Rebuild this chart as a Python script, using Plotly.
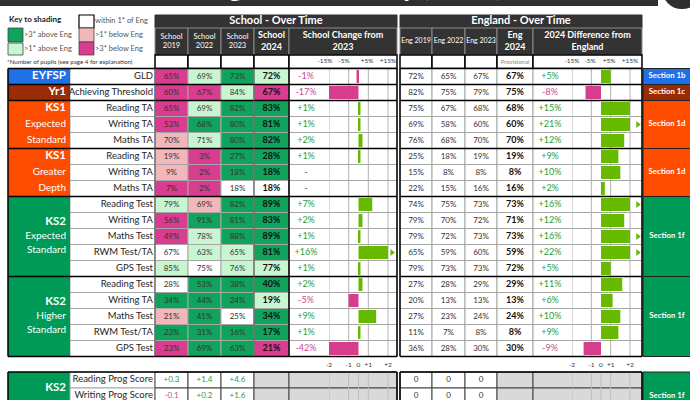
import plotly.graph_objects as go

# values
SUBJECTS = ["GLD", "Achieving Threshold",
            "Reading TA", "Writing TA", "Maths TA",
            "Reading TA", "Writing TA", "Maths TA",
            "Reading Test", "Writing TA", "Maths Test", "RWM Test/TA", "GPS Test",
            "Reading Test", "Writing TA", "Maths Test", "RWM Test/TA", "GPS Test"]
SCHOOL_2019 = [65, 60, 65, 53, 70, 19, 9, 7, 79, 56, 49, 67, 85, 28, 34, 21, 23, 23]
SCHOOL_2022 = [69, 67, 69, 68, 71, 3, 2, 2, 69, 91, 78, 63, 75, 53, 44, 41, 31, 69]
SCHOOL_2023 = [73, 84, 82, 80, 80, 27, 18, 18, 82, 81, 88, 65, 76, 38, 24, 25, 16, 63]
SCHOOL_2024 = [72, 67, 83, 81, 82, 28, 18, 18, 89, 83, 89, 81, 77, 40, 19, 34, 17, 21]
SCHOOL_CHANGE = [-1, -17, 1, 1, 2, 1, None, None, 7, 2, 1, 16, 1, 2, -5, 9, 1, -42]
ENG_2019 = [72, 82, 75, 69, 76, 25, 15, 22, 74, 79, 79, 65, 79, 27, 20, 27, 11, 36]
ENG_2022 = [65, 75, 67, 58, 68, 18, 8, 15, 75, 70, 72, 59, 73, 28, 13, 23, 7, 28]
ENG_2023 = [67, 79, 68, 60, 70, 19, 8, 16, 73, 72, 73, 60, 73, 29, 13, 24, 8, 30]
ENG_2024 = [67, 75, 68, 60, 70, 19, 8, 16, 73, 71, 73, 59, 72, 29, 13, 24, 8, 30]
ENG_DIFF = [5, -8, 15, 21, 12, 9, 10, 2, 16, 12, 16, 22, 5, 11, 6, 10, 9, -9]

# shading vs England: G >3* above, g >1* above, w within 1*, p >1* below, M >3* below
SHADE_2019 = ["M", "M", "M", "M", "p", "p", "p", "M", "g", "M", "M", "w", "g", "w", "G", "p", "G", "M"]
SHADE_2022 = ["g", "M", "g", "G", "g", "M", "M", "M", "p", "G", "g", "g", "w", "G", "G", "G", "G", "G"]
SHADE_2023 = ["G", "g", "G", "G", "G", "G", "G", "w", "G", "G", "G", "g", "g", "G", "G", "w", "G", "G"]
SHADE_2024 = ["g", "M", "G", "G", "G", "G", "G", "w", "G", "G", "G", "G", "g", "G", "g", "G", "G", "M"]

BLOCK_SIZES = [1, 1, 3, 3, 5, 5]
BLOCK_STAGES = ["EYFSP", "Yr1", "KS1", "KS1", "KS2", "KS2"]
BLOCK_SUBTITLES = [[], [], ["Expected", "Standard"], ["Greater", "Depth"],
                   ["Expected", "Standard"], ["Higher", "Standard"]]
BLOCK_SECTIONS = ["Section 1b", "Section 1c", "Section 1d", "Section 1d", "Section 1f", "Section 1f"]

PROG_SUBJECTS = ["Reading Prog Score", "Writing Prog Score"]
PROG_2019 = [0.3, -0.1]
PROG_2022 = [1.4, 0.2]
PROG_2023 = [4.6, 1.6]
PROG_ENG = [0, 0]

KEY_LABELS = [">3* above Eng", ">1* above Eng", "within 1* of Eng", ">1* below Eng", ">3* below Eng"]
PCT_TICKS = ["-15%", "-5%", "+5%", "+15%"]
PROG_TICKS = ["-2", "-1", "0", "+1", "+2"]

# ---- styling / layout (pixel grid of a 690x400 page) ----
FONT = "Lato"
SHADE = {"G": "#0fa35c", "g": "#c7f6d1", "w": "#ffffff", "p": "#f2b6bb", "M": "#d83d8f"}
STAGE_COLOUR = {"EYFSP": "#1f6fe6", "Yr1": "#9a2b05", "KS1": "#ff4d00", "KS2": "#009a57"}
POS_BAR, NEG_BAR = "#66bb00", "#d63d8c"
POS_TXT, NEG_TXT = "#1f9e45", "#d0468f"
DARK = "#333333"
GRID = "#a6a6a6"

TOP, ROW_H = 68.5, 16
PROG_TOP = 372
STAGE_X = (8, 70)
SUBJ_X = (70, 155)
SCHOOL_X = [155, 188, 221, 254, 289]
CHG_X = (289, 329, 397)
ENG_X = [400, 432, 465, 497, 533]
DIF_X = (533, 572, 642)
SEC_X = (642, 690)
CLIP = 15
S_SCALE = (388 - 329) / 30.0   # px per % in the school change bars
E_SCALE = (630 - 572) / 30.0   # px per % in the England difference bars

n = len(SUBJECTS)
bottom = TOP + n * ROW_H
row_mid = [TOP + (i + 0.5) * ROW_H for i in range(n)]

shapes = []


def rect(x0, x1, y0, y1, fill, line=GRID, width=1, layer="below", xref="x"):
    shapes.append(dict(type="rect", xref=xref, yref="y", x0=x0, x1=x1, y0=y0, y1=y1,
                       fillcolor=fill, line=dict(color=line, width=width), layer=layer))


def hline(x0, x1, y, color="black", width=1.5, layer="above"):
    shapes.append(dict(type="line", xref="x", yref="y", x0=x0, x1=x1, y0=y, y1=y,
                       line=dict(color=color, width=width), layer=layer))


def vline(x, y0, y1, color="black", width=1.5, layer="above", xref="x"):
    shapes.append(dict(type="line", xref=xref, yref="y", x0=x, x1=x, y0=y0, y1=y1,
                       line=dict(color=color, width=width), layer=layer))


traces = []


def text(x, y, txt, size, color, pos="middle center", xaxis="x"):
    traces.append(go.Scatter(x=x, y=y, text=txt, mode="text", textposition=pos,
                             textfont=dict(family=FONT, size=size, color=color),
                             xaxis=xaxis, yaxis="y", cliponaxis=False,
                             hoverinfo="skip", showlegend=False))


def centres(edges):
    return [(a + b) / 2 for a, b in zip(edges[:-1], edges[1:])]


# title bar (cut off at top of the page)
shapes.append(dict(type="rect", xref="x", yref="paper", x0=-5, x1=658, y0=1 - 6 / 400, y1=1.1,
                   fillcolor="#2f2f2f", line=dict(width=0), layer="above"))
shapes.append(dict(type="circle", xref="x", yref="paper", x0=661, x1=703, y0=1 - 10 / 400, y1=1.08,
                   fillcolor="#2f2f2f", line=dict(color="white", width=2), layer="above"))

# key
key_boxes = [(8, 23, 28, 42, "G"), (8, 23, 43, 55, "g"), (79, 94, 15, 28, "w"),
             (79, 94, 28, 42, "p"), (79, 94, 42, 55, "M")]
for x0, x1, y0, y1, s in key_boxes:
    rect(x0, x1, y0, y1, SHADE[s], "#444" if s != "w" else "black", 0.8 if s != "w" else 1.2)
text([9], [20], ["<b>Key to shading</b>"], 8, "#222", "middle right")
text([24, 24, 95, 95, 95], [35, 49, 21, 35, 49], KEY_LABELS, 7.5, "#555", "middle right")
text([7], [62], ["*Number of pupils (see page 4 for explanation)"], 6.2, "#333", "middle right")

# header bands
rect(155, 397, 15, 28, DARK, DARK)
rect(400, 642, 15, 28, DARK, DARK)
school_head = SCHOOL_X + [CHG_X[2]]
eng_head = ENG_X + [DIF_X[2]]
for edges in (school_head, eng_head):
    for a, b in zip(edges[:-1], edges[1:]):
        rect(a, b, 28, 55, DARK, "#8c8c8c", 1)
        rect(a, b, 55, TOP, "white", "black", 1.5)
text([276, 521], [21.5, 21.5], ["<b>School - Over Time</b>", "<b>England - Over Time</b>"], 11, "white")
sh_c = centres(school_head)
text(sh_c[:3], [41.5] * 3, ["School<br>2019", "School<br>2022", "School<br>2023"], 7.5, "white")
text(sh_c[3:], [41.5] * 2, ["<b>School<br>2024</b>", "<b>School Change from<br>2023</b>"], 9, "white")
eh_c = centres(eng_head)
text(eh_c[:3], [41.5] * 3, ["Eng 2019", "Eng 2022", "Eng 2023"], 7, "white")
text(eh_c[3:], [41.5] * 2, ["<b>Eng<br>2024</b>", "<b>2024 Difference from<br>England</b>"], 9, "white")
text([515], [62], ["Provisional"], 6, "#888")
text([325, 344, 367, 388], [61.5] * 4, PCT_TICKS, 6.5, "#333")
text([572, 590, 609, 630], [61.5] * 4, PCT_TICKS, 6.5, "#333")

# data cells
shades = [SHADE_2019, SHADE_2022, SHADE_2023, SHADE_2024]
for i in range(n):
    y0, y1 = TOP + i * ROW_H, TOP + (i + 1) * ROW_H
    rect(SUBJ_X[0], SUBJ_X[1], y0, y1, "white")
    for j in range(4):
        rect(SCHOOL_X[j], SCHOOL_X[j + 1], y0, y1, SHADE[shades[j][i]])
    rect(CHG_X[0], CHG_X[2], y0, y1, "white")
    for j in range(4):
        rect(ENG_X[j], ENG_X[j + 1], y0, y1, "white")
    rect(DIF_X[0], DIF_X[2], y0, y1, "white")

for t in (-15, -5, 5, 15):
    vline(t, TOP, bottom, "#b3b3b3", 1, "below", "x2")
    vline(t, TOP, bottom, "#b3b3b3", 1, "below", "x3")

# stage blocks and section labels
row = 0
stage_y, stage_t, sub_y, sub_t, sec_y = [], [], [], [], []
for size, stage, subs in zip(BLOCK_SIZES, BLOCK_STAGES, BLOCK_SUBTITLES):
    y0, y1 = TOP + row * ROW_H, TOP + (row + size) * ROW_H
    col = STAGE_COLOUR[stage]
    rect(STAGE_X[0], STAGE_X[1], y0, y1, col, col, 0)
    rect(SEC_X[0] + 1, SEC_X[1] + 2, y0, y1, col, "#222", 1)
    lines = [stage] + subs
    gap = 16 if size <= 3 else 14
    mid = (y0 + y1) / 2
    for k, t in enumerate(lines):
        yy = mid + (k - (len(lines) - 1) / 2) * gap
        if k == 0:
            stage_y.append(yy)
            stage_t.append(f"<b>{t}</b>")
        else:
            sub_y.append(yy)
            sub_t.append(t)
    sec_y.append(mid)
    hline(STAGE_X[0], CHG_X[2], y0)
    hline(ENG_X[0], DIF_X[2], y0)
    row += size
hline(STAGE_X[0], CHG_X[2], bottom)
hline(ENG_X[0], DIF_X[2], bottom)
for x in (STAGE_X[0], CHG_X[0], CHG_X[2], ENG_X[0], DIF_X[2]):
    vline(x, TOP, bottom)
vline(SCHOOL_X[0], TOP, bottom, "#555", 1)
vline(SCHOOL_X[3], TOP, bottom, "#555", 1)

# progress section
prog_bottom = PROG_TOP + 3 * ROW_H
rect(STAGE_X[0], STAGE_X[1], PROG_TOP, prog_bottom, STAGE_COLOUR["KS2"], STAGE_COLOUR["KS2"], 0)
rect(SEC_X[0] + 1, SEC_X[1] + 2, PROG_TOP, prog_bottom, STAGE_COLOUR["KS2"], "#222", 1)
prog_mid = []
for i in range(len(PROG_SUBJECTS)):
    y0, y1 = PROG_TOP + i * ROW_H, PROG_TOP + (i + 1) * ROW_H
    prog_mid.append((y0 + y1) / 2)
    rect(SUBJ_X[0], SUBJ_X[1], y0, y1, "white")
    for j in range(3):
        rect(SCHOOL_X[j], SCHOOL_X[j + 1], y0, y1, "white", "#444", 1)
        rect(ENG_X[j], ENG_X[j + 1], y0, y1, "white", "#444", 1)
    rect(SCHOOL_X[3], SCHOOL_X[4], y0, y1, "#d9d9d9", "#444", 1)
    rect(CHG_X[0], CHG_X[2], y0, y1, "#d9d9d9", "#444", 1)
    rect(ENG_X[3], ENG_X[4], y0, y1, "#d9d9d9", "#444", 1)
    rect(DIF_X[0], DIF_X[2], y0, y1, "#d9d9d9", "#444", 1)
for t in (-15, -5, 0, 5, 15):
    vline(t, PROG_TOP, prog_bottom, "#bdbdbd", 1, "below", "x2")
    vline(t, PROG_TOP, prog_bottom, "#bdbdbd", 1, "below", "x3")
hline(STAGE_X[0], CHG_X[2], PROG_TOP)
hline(ENG_X[0], DIF_X[2], PROG_TOP)
for x in (STAGE_X[0], CHG_X[2], ENG_X[0], DIF_X[2]):
    vline(x, PROG_TOP, prog_bottom)

stage_y.append(388)
stage_t.append("<b>KS2</b>")
sec_y.append((PROG_TOP + prog_bottom) / 2)
text([66] * len(stage_y), stage_y, stage_t, 11.5, "white", "middle left")
text([66] * len(sub_y), sub_y, sub_t, 10, "white", "middle left")
text([(SEC_X[0] + SEC_X[1]) / 2 + 1] * len(sec_y), sec_y,
     ["<b>%s</b>" % s for s in BLOCK_SECTIONS + ["Section 1f"]], 7.8, "white")

# row labels and values
text([153] * n, row_mid, SUBJECTS, 9.5, "#262626", "middle left")
sc = centres(SCHOOL_X)
ec = centres(ENG_X)
for j, vals in enumerate([SCHOOL_2019, SCHOOL_2022, SCHOOL_2023]):
    text([sc[j]] * n, row_mid, [f"{v}%" for v in vals], 8, "#333")
text([sc[3]] * n, row_mid, [f"<b>{v}%</b>" for v in SCHOOL_2024], 9, "#111")
for j, vals in enumerate([ENG_2019, ENG_2022, ENG_2023]):
    text([ec[j]] * n, row_mid, [f"{v}%" for v in vals], 8, "#333")
text([ec[3]] * n, row_mid, [f"<b>{v}%</b>" for v in ENG_2024], 9, "#111")

chg_txt = ["-" if v is None else f"{v:+d}%" for v in SCHOOL_CHANGE]
chg_col = ["#444" if v is None else (POS_TXT if v > 0 else NEG_TXT) for v in SCHOOL_CHANGE]
text([306] * n, row_mid, chg_txt, 9, chg_col)
text([550] * n, row_mid, [f"{v:+d}%" for v in ENG_DIFF], 9,
     [POS_TXT if v > 0 else NEG_TXT for v in ENG_DIFF])

# progress values
pn = len(PROG_SUBJECTS)
text([153] * pn, prog_mid, PROG_SUBJECTS, 9.5, "#262626", "middle left")
for j, vals in enumerate([PROG_2019, PROG_2022, PROG_2023]):
    text([sc[j]] * pn, prog_mid, [f"{v:+.1f}" for v in vals], 8,
         [POS_TXT if v > 0 else NEG_TXT for v in vals])
    text([ec[j]] * pn, prog_mid, [str(v) for v in PROG_ENG], 8, "#333")


# bars
def bar_trace(vals, axis):
    shown = [None if v is None else max(-CLIP, min(CLIP, v)) for v in vals]
    cols = [POS_BAR if (v or 0) > 0 else NEG_BAR for v in vals]
    return go.Bar(x=shown, y=row_mid, orientation="h", width=13, marker=dict(color=cols, line=dict(width=0)),
                  xaxis=axis, yaxis="y", hoverinfo="skip", showlegend=False)


def arrow_trace(vals, axis, reach):
    xs, ys, sym, cols = [], [], [], []
    for v, y in zip(vals, row_mid):
        if v is not None and abs(v) > CLIP:
            xs.append(reach if v > 0 else -CLIP - 1.2)
            ys.append(y)
            sym.append("triangle-right" if v > 0 else "triangle-left")
            cols.append(POS_BAR if v > 0 else NEG_BAR)
    return go.Scatter(x=xs, y=ys, mode="markers", marker=dict(symbol=sym, color=cols, size=6),
                      xaxis=axis, yaxis="y", cliponaxis=False, hoverinfo="skip", showlegend=False)


traces.append(bar_trace(SCHOOL_CHANGE, "x2"))
traces.append(arrow_trace(SCHOOL_CHANGE, "x2", CLIP + 2.0))
traces.append(bar_trace(ENG_DIFF, "x3"))
traces.append(arrow_trace(ENG_DIFF, "x3", CLIP + 4.0))

text([-15, -5, 0, 5, 15], [365] * 5, PROG_TICKS, 6.5, "#333", xaxis="x2")
text([-15, -5, 0, 5, 15], [365] * 5, PROG_TICKS, 6.5, "#333", xaxis="x3")

fig = go.Figure(traces)
# only the bottom edge of the big title shows below the top of the page
fig.add_annotation(text="<b>Attainment & Progress Summary (2024)</b>", xref="paper", yref="paper",
                   x=0.012, y=1 - 4 / 400, xanchor="left", yanchor="bottom", showarrow=False,
                   font=dict(family=FONT, size=28, color="white"))
fig.update_layout(
    width=690, height=400, margin=dict(l=0, r=0, t=0, b=0),
    paper_bgcolor="white", plot_bgcolor="rgba(0,0,0,0)", showlegend=False,
    shapes=shapes, barmode="overlay",
    xaxis=dict(range=[0, 690], visible=False, domain=[0, 1]),
    yaxis=dict(range=[400, 0], visible=False, domain=[0, 1]),
    xaxis2=dict(domain=[CHG_X[1] / 690, CHG_X[2] / 690], anchor="y", visible=False,
                range=[-15, -15 + (CHG_X[2] - CHG_X[1]) / S_SCALE]),
    xaxis3=dict(domain=[DIF_X[1] / 690, DIF_X[2] / 690], anchor="y", visible=False,
                range=[-15, -15 + (DIF_X[2] - DIF_X[1]) / E_SCALE]),
)
# the page body has a default margin; drop it so the figure sits at the window's corner
fig.write_html("out.html", config={"displayModeBar": False},
               post_script="document.body.style.margin='0px'; document.body.style.overflow='hidden';")
